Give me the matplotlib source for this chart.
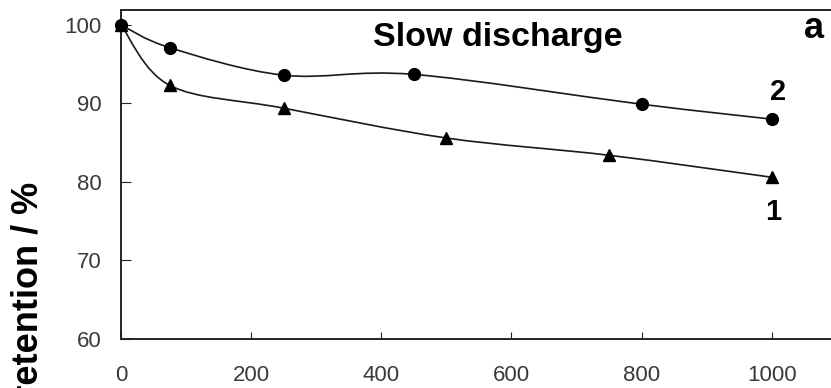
import numpy as np
import matplotlib
matplotlib.use('Agg')
import matplotlib.pyplot as plt
from matplotlib.path import Path
from matplotlib.patches import PathPatch

plt.rcParams['font.family'] = ['Liberation Sans', 'DejaVu Sans']

# cycle number vs capacity retention
cycles_1 = [0, 75, 250, 500, 750, 1000]
retention_1 = [100, 92.3, 89.4, 85.6, 83.4, 80.6]
cycles_2 = [0, 75, 250, 450, 800, 1000]
retention_2 = [100, 97.1, 93.6, 93.7, 89.9, 88.0]

xticks = [0, 200, 400, 600, 800, 1000]
yticks = [60, 70, 80, 90, 100]


def smooth_path(x, y):
    # excel-style smoothed line (cubic bezier, catmull-rom control points)
    pts = np.column_stack([x, y]).astype(float)
    n = len(pts)
    verts = [pts[0]]
    codes = [Path.MOVETO]
    for i in range(n - 1):
        p0 = pts[i - 1] if i > 0 else pts[i]
        p1 = pts[i]
        p2 = pts[i + 1]
        p3 = pts[i + 2] if i + 2 < n else pts[i + 1]
        verts += [p1 + (p2 - p0) / 6, p2 - (p3 - p1) / 6, p2]
        codes += [Path.CURVE4] * 3
    return Path(verts, codes)


fig = plt.figure(figsize=(8.31, 3.88), dpi=100)
ax = fig.add_axes([0.1456, 0.1263, 0.8614, 0.8479])

for cx, cy, mk in [(cycles_1, retention_1, '^'), (cycles_2, retention_2, 'o')]:
    ax.add_patch(PathPatch(smooth_path(cx, cy), fill=False, edgecolor='#1a1a1a', lw=1.2))
    ax.plot(cx, cy, linestyle='none', marker=mk, color='black', markersize=8.5, clip_on=False, zorder=3)

ax.set_xlim(0, 1100)
ax.set_ylim(60, 101.9)
ax.set_xticks(xticks)
ax.set_yticks(yticks)

for s in ax.spines.values():
    s.set_linewidth(1.4)
    s.set_color('#222222')

ax.tick_params(axis='both', direction='in', labelsize=16, labelcolor='#3a3a3a', color='#222222')
ax.tick_params(axis='x', length=5, pad=19)
ax.tick_params(axis='y', length=7, pad=14)

ax.text(579, 98.4, 'Slow discharge', fontsize=24.5, fontweight='bold', ha='center', va='center')
ax.text(1065, 99.5, 'a', fontsize=26, fontweight='bold', ha='center', va='center', clip_on=False)
ax.text(1010, 91.5, '2', fontsize=21, fontweight='bold', ha='center', va='center')
ax.text(1002, 76.2, '1', fontsize=21, fontweight='bold', ha='center', va='center')

fig.text(0.0337, 0.531, 'Capacity retention / %', rotation=90, fontsize=26,
         fontweight='bold', ha='center', va='top')

plt.savefig('out.png', dpi=100)
